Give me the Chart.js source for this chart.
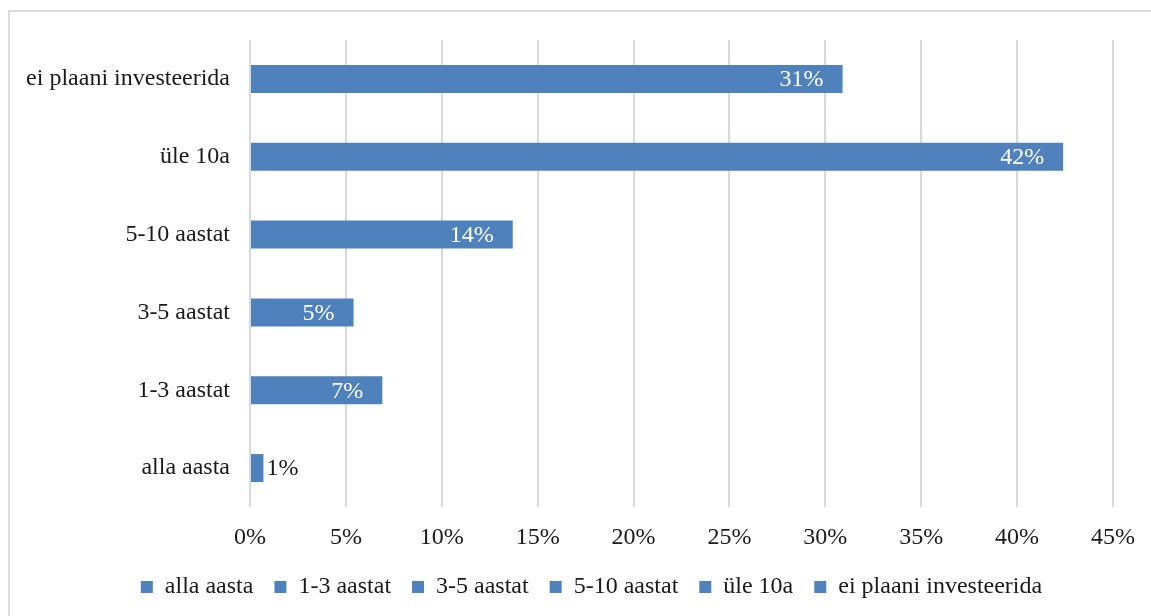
<!DOCTYPE html>
<html lang="et">
<head>
<meta charset="utf-8">
<title>Investeeringute ajahorisont</title>
<script src="https://cdn.jsdelivr.net/npm/chart.js@4/dist/chart.umd.min.js"></script>
<style>
    html, body { margin: 0; padding: 0; background: #fff; overflow: hidden; }
    #frame {
        position: absolute; left: 8px; top: 10px;
        width: 1200px; height: 700px;
        border: 2px solid #dcdcdc;
    }
    #wrap { position: absolute; left: 0; top: 0; width: 1151px; height: 616px; }
</style>
</head>
<body>
<div id="frame"></div>
<div id="wrap"><canvas id="chart"></canvas></div>
<script>
const categories = ["alla aasta", "1-3 aastat", "3-5 aastat", "5-10 aastat", "üle 10a", "ei plaani investeerida"];
const shares = [0.7, 6.9, 5.4, 13.7, 42.4, 30.9];
const xTicks = [0, 5, 10, 15, 20, 25, 30, 35, 40, 45];

const FONT = "'Liberation Serif', 'Times New Roman', serif";
const BLUE = "#4f81bd";
const TEXT = "#1a1a1a";

// one dataset per category so that each gets its own legend entry
const datasets = categories.map((name, i) => ({
    label: name,
    data: categories.map((_, j) => (j === i ? shares[i] : null)),
    backgroundColor: BLUE,
    grouped: false,
    barPercentage: 0.36,
    categoryPercentage: 1
}));

// value labels: inside the bar end when there is room, otherwise just past it
const barLabels = {
    id: "barLabels",
    afterDatasetsDraw(chart) {
        const ctx = chart.ctx;
        ctx.save();
        ctx.font = `24px ${FONT}`;
        ctx.textBaseline = "middle";
        chart.data.datasets.forEach((ds, di) => {
            chart.getDatasetMeta(di).data.forEach((bar, i) => {
                const v = ds.data[i];
                if (v == null) return;
                const text = `${Math.round(v)}%`;
                const w = ctx.measureText(text).width;
                const len = bar.x - bar.base;
                if (len > w + 24) {
                    ctx.fillStyle = "#fff";
                    ctx.textAlign = "right";
                    ctx.fillText(text, bar.x - 19, bar.y + 1);
                } else {
                    ctx.fillStyle = TEXT;
                    ctx.textAlign = "left";
                    ctx.fillText(text, bar.x + 3, bar.y + 1);
                }
            });
        });
        ctx.restore();
    }
};

// centre the legend under the whole frame rather than under the padded box
const legendShift = {
    id: "legendShift",
    afterLayout(chart) {
        if (!chart.legend) return;
        chart.legend.left += 35;
        chart.legend.right += 35;
    }
};

new Chart(document.getElementById("chart"), {
    type: "bar",
    data: { labels: categories, datasets },
    plugins: [barLabels, legendShift],
    options: {
        indexAxis: "y",
        responsive: true,
        maintainAspectRatio: false,
        animation: false,
        layout: { padding: { top: 40, right: 38, left: 0, bottom: 7 } },
        plugins: {
            legend: {
                position: "bottom",
                labels: {
                    boxWidth: 12,
                    boxHeight: 12,
                    padding: 21,
                    color: TEXT,
                    font: { family: FONT, size: 24 }
                }
            },
            tooltip: { enabled: false }
        },
        scales: {
            x: {
                min: 0,
                max: 45,
                afterBuildTicks: scale => { scale.ticks = xTicks.map(v => ({ value: v })); },
                afterFit: scale => { scale.height = 47; },
                border: { display: false },
                grid: { color: "#d9d9d9", lineWidth: 2, drawTicks: false },
                ticks: {
                    padding: 16,
                    color: TEXT,
                    font: { family: FONT, size: 24 },
                    callback: v => `${v}%`
                }
            },
            y: {
                reverse: true,
                afterFit: scale => { scale.width = 250; },
                border: { display: false },
                grid: { display: false, drawTicks: false },
                ticks: {
                    padding: 20,
                    color: TEXT,
                    font: { family: FONT, size: 24 }
                }
            }
        }
    }
});
</script>
</body>
</html>
